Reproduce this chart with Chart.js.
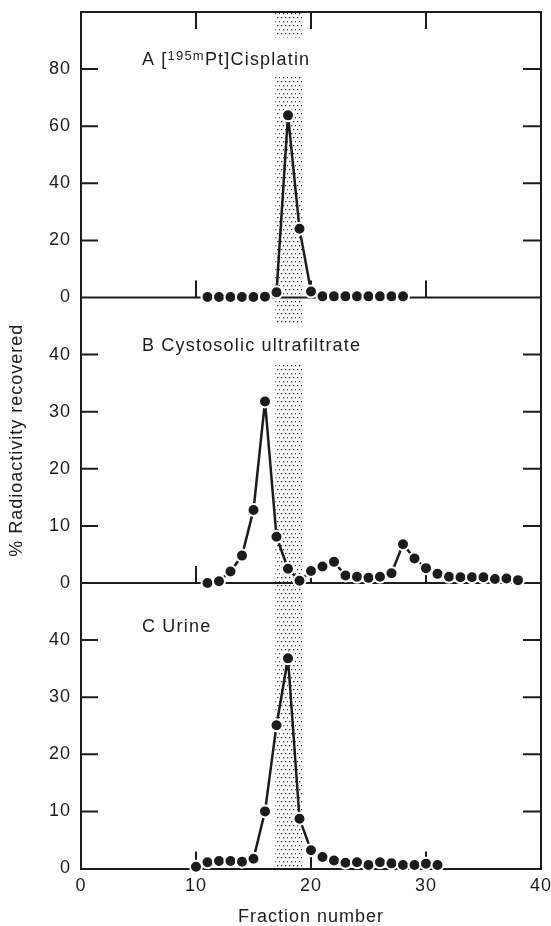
<!DOCTYPE html>
<html>
<head>
<meta charset="utf-8">
<script src="https://cdn.jsdelivr.net/npm/chart.js@4.4.1/dist/chart.umd.min.js"></script>
<style>
  html, body { margin: 0; padding: 0; background: #fff; }
</style>
</head>
<body>
<canvas id="fractionChart" width="551" height="926"></canvas>
<script>
// panel A: [195mPt]cisplatin
const fractionsA = [11, 12, 13, 14, 15, 16, 17, 18, 19, 20, 21, 22, 23, 24, 25, 26, 27, 28];
const valuesA = [0.2, 0.2, 0.2, 0.2, 0.2, 0.3, 1.8, 63.8, 24.1, 2.1, 0.4, 0.4, 0.4, 0.4, 0.4, 0.4, 0.4, 0.4];
const peakA = [17, 20]; // only this stretch is joined by a line

// panel B: cystosolic ultrafiltrate
const fractionsB = [11, 12, 13, 14, 15, 16, 17, 18, 19, 20, 21, 22, 23, 24, 25, 26, 27, 28, 29, 30, 31, 32, 33, 34, 35, 36, 37, 38];
const valuesB = [0, 0.3, 2.0, 4.8, 12.8, 31.8, 8.1, 2.5, 0.4, 2.1, 2.9, 3.7, 1.3, 1.1, 0.9, 1.1, 1.7, 6.8, 4.3, 2.6, 1.6, 1.1, 1.0, 1.0, 1.0, 0.7, 0.8, 0.5];

// panel C: urine
const fractionsC = [10, 11, 12, 13, 14, 15, 16, 17, 18, 19, 20, 21, 22, 23, 24, 25, 26, 27, 28, 29, 30, 31];
const valuesC = [0.3, 1.1, 1.3, 1.3, 1.2, 1.7, 10.0, 25.1, 36.8, 8.7, 3.2, 2.0, 1.4, 1.0, 1.1, 0.6, 1.1, 0.9, 0.6, 0.6, 0.85, 0.6];

const xTicks = [0, 10, 20, 30, 40];
const bandFrom = 16.9, bandTo = 19.25;   // shaded fractions

const ink = '#1c1c1c';
Chart.defaults.font.family = '"Liberation Sans", Arial, sans-serif';
Chart.defaults.font.size = 18;
Chart.defaults.color = ink;

const toPoints = (xs, ys) => xs.map((f, i) => ({ x: f, y: ys[i] }));

// panel captions (x in fractions, y in the panel's own units)
const captions = [
  { axis: 'yA', x: 5.3, y: 81.6, parts: [['A [', 18, 0], ['195m', 13, 5], ['Pt]Cisplatin', 18, 0]], box: true },
  { axis: 'yB', x: 5.3, y: 40.7, parts: [['B Cystosolic ultrafiltrate', 18, 0]], box: true },
  { axis: 'yC', x: 5.3, y: 41.5, parts: [['C Urine', 18, 0]], box: false }
];

function yAxis(max, step, weight, title) {
  return {
    type: 'linear',
    position: 'left',
    stack: 'panels',
    stackWeight: 1,
    weight: weight,
    min: 0,
    max: max,
    ticks: { stepSize: step, padding: 10, callback: v => (v === max ? null : v) },
    grid: { display: false, drawTicks: false },
    border: { display: true, color: ink, width: 2 },
    title: title ? { display: true, text: title, padding: { top: 6, bottom: 0 } } : { display: false },
    afterFit(scale) { scale.width = 81; scale.paddingTop = 0; scale.paddingBottom = 0; }
  };
}

const paperPlugin = {
  id: 'paper',
  beforeDraw(chart) { chart.ctx.letterSpacing = '1px'; },
  beforeDatasetsDraw(chart) {
    const { ctx, chartArea: a, scales } = chart;
    const x = scales.x;
    ctx.save();

    // stippled band
    const tile = document.createElement('canvas');
    tile.width = 8; tile.height = 8;
    const tc = tile.getContext('2d');
    tc.fillStyle = '#333';
    [[1, 1], [5, 1], [3, 5], [7, 5]].forEach(p => tc.fillRect(p[0], p[1], 1.3, 1.3));
    ctx.fillStyle = ctx.createPattern(tile, 'repeat');
    const b0 = x.getPixelForValue(bandFrom), b1 = x.getPixelForValue(bandTo);
    ctx.fillRect(b0, a.top, b1 - b0, a.bottom - a.top);

    // captions, with white ground where they cross the band
    ctx.textBaseline = 'alphabetic';
    ctx.textAlign = 'left';
    captions.forEach(c => {
      const px = x.getPixelForValue(c.x), py = scales[c.axis].getPixelForValue(c.y);
      ctx.letterSpacing = '1.2px';
      let w = 0;
      c.parts.forEach(p => { ctx.font = p[1] + 'px "Liberation Sans", Arial, sans-serif'; w += ctx.measureText(p[0]).width; });
      if (c.box) { ctx.fillStyle = '#fff'; ctx.fillRect(px - 4, py - 27, w + 8, 39); }
      ctx.fillStyle = ink;
      let cx = px;
      c.parts.forEach(p => {
        ctx.font = p[1] + 'px "Liberation Sans", Arial, sans-serif';
        ctx.fillText(p[0], cx, py - p[2]);
        cx += ctx.measureText(p[0]).width;
      });
    });
    ctx.letterSpacing = '0px';

    // frame, baselines and inward ticks
    ctx.strokeStyle = ink;
    ctx.lineWidth = 2;
    ctx.beginPath();
    ctx.moveTo(a.left, a.top); ctx.lineTo(a.right, a.top); ctx.lineTo(a.right, a.bottom);
    ['yA', 'yB'].forEach(id => {
      const y = scales[id].getPixelForValue(0);
      ctx.moveTo(a.left, y); ctx.lineTo(a.right, y);
    });
    xTicks.slice(1, -1).forEach(v => {
      const px = x.getPixelForValue(v);
      ctx.moveTo(px, a.top); ctx.lineTo(px, a.top + 17);
      ['yA', 'yB', 'yC'].forEach(id => {
        const y = scales[id].getPixelForValue(0);
        ctx.moveTo(px, y); ctx.lineTo(px, y - 17);
      });
    });
    ['yA', 'yB', 'yC'].forEach(id => {
      const s = scales[id];
      s.ticks.forEach(t => {
        if (t.value === s.min || t.value === s.max) return;
        const py = s.getPixelForValue(t.value);
        ctx.moveTo(a.left, py); ctx.lineTo(a.left + 17, py);
        ctx.moveTo(a.right, py); ctx.lineTo(a.right - 18, py);
      });
    });
    ctx.stroke();
    ctx.restore();
    ctx.letterSpacing = '1px';
  },
  afterDraw(chart) { chart.ctx.letterSpacing = '0px'; }
};

const seriesStyle = {
  type: 'line',
  borderColor: ink,
  borderWidth: 2.5,
  pointRadius: 6,
  pointBackgroundColor: ink,
  pointBorderColor: '#fff',
  pointBorderWidth: 2,
  tension: 0,
  clip: false
};

new Chart(document.getElementById('fractionChart').getContext('2d'), {
  type: 'line',
  data: {
    datasets: [
      Object.assign({}, seriesStyle, {
        label: 'A', yAxisID: 'yA', data: toPoints(fractionsA, valuesA),
        segment: {
          borderColor: c => (c.p0.parsed.x >= peakA[0] && c.p1.parsed.x <= peakA[1] ? ink : 'rgba(0,0,0,0)')
        }
      }),
      Object.assign({}, seriesStyle, { label: 'B', yAxisID: 'yB', data: toPoints(fractionsB, valuesB) }),
      Object.assign({}, seriesStyle, { label: 'C', yAxisID: 'yC', data: toPoints(fractionsC, valuesC) })
    ]
  },
  options: {
    responsive: false,
    animation: false,
    layout: { padding: { top: 12, right: 10, bottom: 0, left: 0 } },
    plugins: { legend: { display: false }, tooltip: { enabled: false } },
    scales: {
      x: {
        type: 'linear',
        min: 0,
        max: 40,
        ticks: { stepSize: 10, padding: 7 },
        grid: { display: false, drawTicks: false },
        border: { display: true, color: ink, width: 2 },
        title: { display: true, text: 'Fraction number', padding: { top: 2.3, bottom: -2 } },
        afterFit(scale) { scale.paddingLeft = 0; scale.paddingRight = 0; }
      },
      yA: yAxis(100, 20, 3, null),
      yB: yAxis(50, 10, 2, '% Radioactivity recovered'),
      yC: yAxis(50, 10, 1, null)
    }
  },
  plugins: [paperPlugin]
});
</script>
</body>
</html>
